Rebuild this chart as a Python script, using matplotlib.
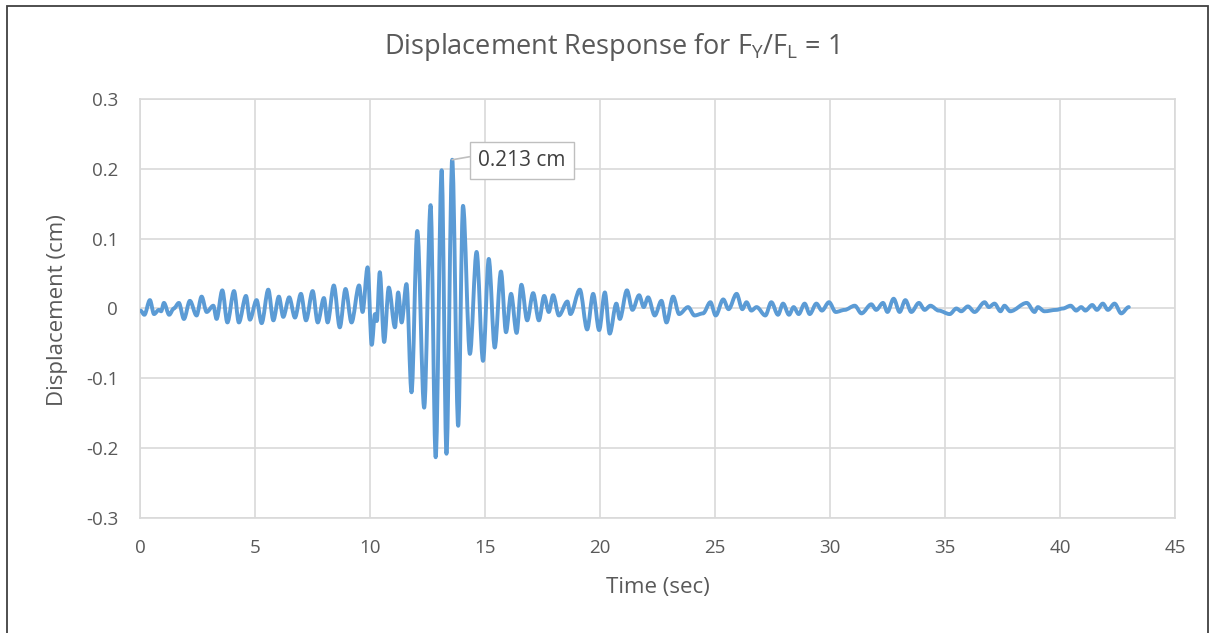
import matplotlib
matplotlib.use('Agg')
import matplotlib.pyplot as plt
from matplotlib.patches import Rectangle, PathPatch
from matplotlib.path import Path

plt.rcParams['font.family'] = ['Open Sans', 'DejaVu Sans']
plt.rcParams['mathtext.fontset'] = 'custom'
plt.rcParams['mathtext.rm'] = 'Open Sans'
plt.rcParams['mathtext.it'] = 'Open Sans'

# turning points (sec, cm)
time_sec = [0.0, 0.17, 0.41, 0.59, 0.8, 0.9, 1.02, 1.25, 1.45, 1.67, 1.89, 2.15, 2.44, 2.66, 2.88,
            3.17, 3.31, 3.56, 3.78, 4.07, 4.28, 4.59, 4.76, 5.05, 5.27, 5.56, 5.78, 6.02, 6.21,
            6.47, 6.72, 6.98, 7.2, 7.49, 7.71, 7.98, 8.14, 8.41, 8.67, 8.92, 9.18, 9.51, 9.66,
            9.88, 10.06, 10.2, 10.28, 10.41, 10.6, 10.8, 11.07, 11.21, 11.36, 11.57, 11.79,
            12.04, 12.34, 12.62, 12.84, 13.1, 13.31, 13.56, 13.82, 14.03, 14.33, 14.62, 14.9,
            15.15, 15.41, 15.68, 15.9, 16.12, 16.36, 16.57, 16.82, 17.08, 17.33, 17.56, 17.76,
            17.95, 18.2, 18.57, 18.7, 19.11, 19.43, 19.69, 19.95, 20.2, 20.41, 20.7, 20.85,
            21.16, 21.4, 21.69, 21.89, 22.08, 22.37, 22.66, 22.88, 23.17, 23.43, 23.82, 24.1,
            24.47, 24.79, 25.02, 25.35, 25.58, 25.93, 26.18, 26.36, 26.57, 26.8, 27.18, 27.44,
            27.73, 27.95, 28.21, 28.41, 28.63, 28.89, 29.11, 29.4, 29.64, 29.95, 30.24, 30.63,
            31.07, 31.36, 31.79, 32.0, 32.3, 32.49, 32.76, 33.02, 33.27, 33.53, 33.86, 34.11,
            34.36, 34.72, 35.2, 35.49, 35.7, 35.99, 36.28, 36.72, 36.9, 37.15, 37.41, 37.58,
            37.83, 38.55, 38.89, 39.03, 39.32, 39.83, 40.12, 40.46, 40.7, 40.92, 41.1, 41.4,
            41.6, 41.86, 42.08, 42.37, 42.66, 42.99]
displacement = [-0.003, -0.009, 0.012, -0.008, -0.002, -0.004, 0.008, -0.009, 0.0, 0.008, -0.015,
                0.011, -0.010, 0.017, -0.005, 0.004, -0.015, 0.026, -0.020, 0.025, -0.020, 0.018,
                -0.016, 0.012, -0.021, 0.027, -0.017, 0.017, -0.012, 0.016, -0.013, 0.021, -0.017,
                0.025, -0.020, 0.015, -0.020, 0.033, -0.027, 0.028, -0.020, 0.033, -0.005, 0.059,
                -0.052, -0.008, -0.018, 0.052, -0.048, 0.030, -0.027, 0.023, -0.020, 0.035, -0.120,
                0.111, -0.142, 0.148, -0.213, 0.198, -0.208, 0.213, -0.168, 0.147, -0.065, 0.081,
                -0.075, 0.071, -0.056, 0.053, -0.034, 0.021, -0.035, 0.034, -0.017, 0.022, -0.017,
                0.018, -0.005, 0.019, -0.010, 0.010, -0.008, 0.027, -0.030, 0.021, -0.031, 0.023,
                -0.036, 0.007, -0.015, 0.026, -0.002, 0.019, 0.002, 0.016, -0.010, 0.011, -0.020,
                0.017, -0.008, 0.002, -0.010, -0.007, 0.009, -0.010, 0.013, -0.001, 0.021, -0.001,
                0.009, -0.003, 0.002, -0.010, 0.009, -0.009, 0.007, -0.009, 0.002, -0.008, 0.007,
                -0.008, 0.007, -0.003, 0.009, -0.005, -0.002, 0.004, -0.007, 0.006, -0.002, 0.008,
                -0.005, 0.014, -0.005, 0.012, -0.005, 0.008, -0.002, 0.004, -0.003, -0.008, 0.0,
                -0.004, 0.003, -0.005, 0.009, 0.002, 0.007, -0.004, 0.004, -0.004, 0.008, -0.005,
                0.002, -0.004, -0.002, 0.0, 0.004, -0.003, 0.002, -0.003, 0.005, -0.002, 0.007,
                -0.002, 0.007, -0.007, 0.002]

peak_t, peak_v = 13.56, 0.213
xticks = list(range(0, 50, 5))
yticks = [-0.3, -0.2, -0.1, 0, 0.1, 0.2, 0.3]
ytick_labels = ['-0.3', '-0.2', '-0.1', '0', '0.1', '0.2', '0.3']

grid_c, text_c = '#d9d9d9', '#595959'

fig = plt.figure(figsize=(12.13, 6.33), dpi=100)
ax = fig.add_axes([0.1158, 0.1817, 0.8529, 0.6619])

# smoothed line (like Excel's "smoothed line"): bezier segments with flat tangents at turning points
verts, codes = [(time_sec[0], displacement[0])], [Path.MOVETO]
for i in range(len(time_sec) - 1):
    t0, t1 = time_sec[i], time_sec[i + 1]
    v0, v1 = displacement[i], displacement[i + 1]
    dt = (t1 - t0) / 3.
    verts += [(t0 + dt, v0), (t1 - dt, v1), (t1, v1)]
    codes += [Path.CURVE4] * 3
ax.add_patch(PathPatch(Path(verts, codes), fill=False, ec='#5b9bd5', lw=2.8,
                       joinstyle='round', capstyle='round', zorder=3))

ax.set_xlim(0, 45)
ax.set_ylim(-0.3, 0.3)
ax.set_xticks(xticks)
ax.set_yticks(yticks)
ax.set_yticklabels(ytick_labels)
ax.grid(True, color=grid_c, lw=1.2)
for s in ax.spines.values():
    s.set_color(grid_c)
    s.set_linewidth(1.2)
ax.tick_params(length=0, labelsize=13.5, labelcolor=text_c)
ax.tick_params(axis='y', pad=16)
ax.tick_params(axis='x', pad=15)

fig.text(658 / 1213, 1 - 588 / 633, 'Time (sec)', ha='center', va='center', fontsize=16, color=text_c)
fig.text(58 / 1213, 1 - 310 / 633, 'Displacement (cm)', ha='center', va='center', rotation=90,
         fontsize=16, color=text_c)

ax.annotate('0.213 cm', xy=(peak_t, peak_v), xytext=(16.6, 0.212), fontsize=15, color='#404040',
            ha='center', va='center',
            bbox=dict(boxstyle='square,pad=0.4', fc='white', ec='#bfbfbf', lw=1),
            arrowprops=dict(arrowstyle='-', color='#bfbfbf', lw=1.2, shrinkA=0, shrinkB=0,
                            relpos=(0, 0.75)), zorder=5)

fig.text(611 / 1213, 1 - 47 / 633, 'Displacement Response for F$_{\\mathrm{Y}}$/F$_{\\mathrm{L}}$ = 1',
         ha='center', va='center', fontsize=19.5, color=text_c)

fig.patches.append(Rectangle((7 / 1213, -0.05), 1201 / 1213, 1.05 - 6 / 633, transform=fig.transFigure,
                             fill=False, ec='#404040', lw=1.3))

fig.savefig('out.png', dpi=100)
